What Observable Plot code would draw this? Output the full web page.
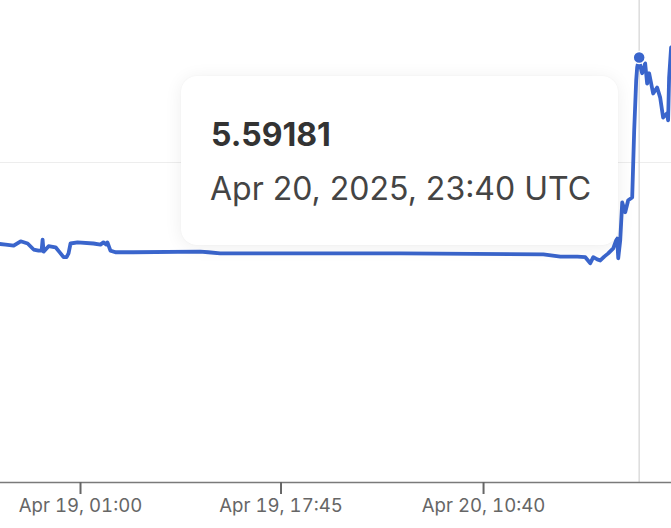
<!DOCTYPE html>
<html>
<head>
<meta charset="utf-8">
<script src="https://cdn.jsdelivr.net/npm/d3@7"></script>
<script src="https://cdn.jsdelivr.net/npm/@observablehq/plot@0.6"></script>
<style>
  html, body { margin: 0; padding: 0; background: #fff; }
  #wrap { position: relative; width: 671px; height: 528px; overflow: hidden; }
  #tip {
    position: absolute; left: 181px; top: 76px; width: 437px; height: 169px;
    background: #fff; border-radius: 16px;
    box-shadow: 0 2px 18px rgba(0,0,0,0.07), 0 0 2px rgba(0,0,0,0.04);
    font-family: Inter, "Noto Sans", sans-serif; color: #3a3a3a;
    box-sizing: border-box;
  }
  #tip .v { position: absolute; left: 30px; top: 43px; font-size: 32px; line-height: 32px; font-weight: 700; color: #333; white-space: nowrap; }
  #tip .d { position: absolute; left: 29px; top: 97px; font-size: 32px; line-height: 32px; font-weight: 400; color: #444; white-space: nowrap; }
</style>
</head>
<body>
<div id="wrap"></div>
<script>
const times = [
"2025-04-18T17:55Z","2025-04-18T18:45Z","2025-04-18T19:25Z","2025-04-18T20:00Z","2025-04-18T20:35Z",
"2025-04-18T21:05Z","2025-04-18T21:30Z","2025-04-18T21:45Z","2025-04-18T21:50Z","2025-04-18T21:55Z",
"2025-04-18T22:20Z","2025-04-18T22:55Z","2025-04-18T23:20Z","2025-04-18T23:35Z","2025-04-18T23:50Z",
"2025-04-19T00:00Z","2025-04-19T00:10Z","2025-04-19T00:45Z","2025-04-19T02:05Z","2025-04-19T02:40Z",
"2025-04-19T02:55Z","2025-04-19T03:10Z","2025-04-19T03:15Z","2025-04-19T03:30Z","2025-04-19T03:55Z",
"2025-04-19T05:25Z","2025-04-19T11:00Z","2025-04-19T11:40Z","2025-04-19T12:40Z","2025-04-19T19:25Z",
"2025-04-20T03:45Z","2025-04-20T15:40Z","2025-04-20T17:05Z","2025-04-20T18:30Z","2025-04-20T19:10Z",
"2025-04-20T19:35Z","2025-04-20T19:50Z","2025-04-20T20:10Z","2025-04-20T20:25Z","2025-04-20T20:45Z",
"2025-04-20T21:05Z","2025-04-20T21:30Z","2025-04-20T21:45Z","2025-04-20T21:50Z","2025-04-20T21:55Z",
"2025-04-20T22:05Z","2025-04-20T22:15Z","2025-04-20T22:30Z","2025-04-20T22:45Z","2025-04-20T23:05Z",
"2025-04-20T23:15Z","2025-04-20T23:25Z","2025-04-20T23:30Z","2025-04-20T23:35Z","2025-04-20T23:40Z",
"2025-04-20T23:45Z","2025-04-20T23:55Z","2025-04-21T00:10Z","2025-04-21T00:20Z","2025-04-21T00:30Z",
"2025-04-21T00:50Z","2025-04-21T01:10Z","2025-04-21T01:25Z","2025-04-21T01:40Z","2025-04-21T02:00Z",
"2025-04-21T02:05Z","2025-04-21T02:10Z","2025-04-21T02:20Z","2025-04-21T02:35Z"
];
const values = [
5.252,5.250,5.248,5.256,5.252,
5.241,5.239,5.239,5.259,5.237,
5.247,5.245,5.234,5.227,5.227,
5.234,5.252,5.254,5.252,5.250,
5.254,5.250,5.254,5.239,5.236,
5.236,5.237,5.236,5.234,5.234,
5.234,5.232,5.228,5.228,5.227,
5.216,5.227,5.223,5.221,5.228,
5.234,5.243,5.258,5.261,5.225,
5.258,5.327,5.309,5.331,5.336,
5.459,5.550,5.574,5.583,5.59181,
5.577,5.563,5.581,5.544,5.563,
5.526,5.537,5.519,5.482,5.490,
5.477,5.555,5.610,5.614
];
const tickTimes = ["2025-04-19T01:00Z","2025-04-19T17:45Z","2025-04-20T10:40Z"];
const gridValues = [5.4];
const hoverTime = "2025-04-20T23:40Z";
const hoverValue = 5.59181;
const hoverLabel = "Apr 20, 2025, 23:40 UTC";
const xDomain = ["2025-04-18T18:19Z","2025-04-21T02:22Z"];
const yDomain = [4.8154, 5.6959];

const data = times.map((t, i) => ({t: new Date(t), v: values[i]}));
const fmt = d3.utcFormat("%b %d, %H:%M");

const chart = Plot.plot({
  width: 671, height: 528,
  marginTop: 0, marginLeft: 0, marginRight: 0, marginBottom: 46,
  style: {fontFamily: "Inter, 'Noto Sans', sans-serif", background: "#fff"},
  x: {type: "utc", domain: xDomain.map(d => new Date(d))},
  y: {domain: yDomain, axis: null},
  marks: [
    Plot.gridY(gridValues, {stroke: "#ededed", strokeOpacity: 1, strokeWidth: 1}),
    Plot.ruleX([new Date(hoverTime)], {stroke: "#dcdcdc", strokeWidth: 1.5}),
    Plot.lineY(data, {x: "t", y: "v", stroke: "#3a65cc", strokeWidth: 3.8, strokeLinejoin: "round", clip: true}),
    Plot.frame({anchor: "bottom", stroke: "#7a7a7a", strokeWidth: 1.5}),
    Plot.axisX(tickTimes.map(d => new Date(d)), {
      tickFormat: fmt, tickSize: 12, tickPadding: 4, stroke: "#666", strokeWidth: 2,
      fill: "#666", fontSize: 18.6, label: null
    }),
    Plot.dot([{t: new Date(hoverTime), v: hoverValue}], {x: "t", y: "v", r: 6, fill: "#3a65cc", stroke: "#fff", strokeWidth: 1.5})
  ]
});
const wrap = document.getElementById("wrap");
wrap.appendChild(chart);
const tip = document.createElement("div");
tip.id = "tip";
tip.innerHTML = `<div class="v">${hoverValue}</div><div class="d">${hoverLabel}</div>`;
wrap.appendChild(tip);
</script>
</body>
</html>
